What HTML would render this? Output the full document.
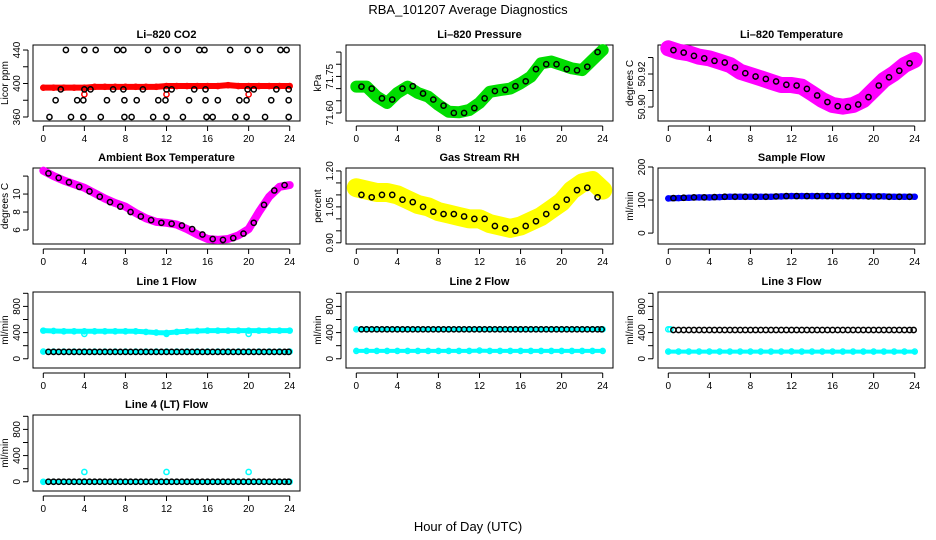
<!DOCTYPE html>
<html><head><meta charset="utf-8"><style>
body{margin:0;background:#fff;}
svg{display:block;font-family:"Liberation Sans",Helvetica,sans-serif;}
</style></head><body>
<svg id="chart" width="936" height="540" viewBox="0 0 936 540">
<text x="468" y="14" text-anchor="middle" font-size="13">RBA_101207  Average Diagnostics</text>
<text x="468" y="531" text-anchor="middle" font-size="13">Hour of Day (UTC)</text>
</svg>
<script>
const HOURS=[0,1,2,3,4,5,6,7,8,9,10,11,12,13,14,15,16,17,18,19,20,21,22,23,24];
const BHOURS=[0.5,1.5,2.5,3.5,4.5,5.5,6.5,7.5,8.5,9.5,10.5,11.5,12.5,13.5,14.5,15.5,16.5,17.5,18.5,19.5,20.5,21.5,22.5,23.5];
const FHOURS=[0.5,1,1.5,2,2.5,3,3.5,4,4.5,5,5.5,6,6.5,7,7.5,8,8.5,9,9.5,10,10.5,11,11.5,12,12.5,13,13.5,14,14.5,15,15.5,16,16.5,17,17.5,18,18.5,19,19.5,20,20.5,21,21.5,22,22.5,23,23.5,23.9];
const XTICKS=[0,4,8,12,16,20,24];

const co2Band=[395,395,395,395,395,396,396,396,396,396,396,396,397,397,397,397,397,397,398,397,397,397,397,397,397];
const co2BlackHours=[2.2,4.0,5.1,7.2,7.8,10.2,12.0,13.1,15.2,15.7,18.2,19.9,21.1,23.1,23.7,1.7,4.0,4.6,6.8,7.8,9.7,12.0,12.5,14.7,15.8,19.9,20.5,22.7,23.9,1.2,3.3,3.9,6.2,7.9,9.1,11.2,11.9,14.2,15.8,17.0,19.1,19.8,22.2,23.9,0.6,2.7,3.9,5.6,7.9,8.6,10.7,12.0,13.6,15.9,16.5,18.7,19.8,21.6,23.9];
const co2BlackValues=[440,440,440,440,440,440,440,440,440,440,440,440,440,440,440,393,393,393,393,393,393,393,393,393,393,393,393,393,393,380,380,380,380,380,380,380,380,380,380,380,380,380,380,380,360,360,360,360,360,360,360,360,360,360,360,360,360,360,360];
const co2OutHours=[4,12,20];
const co2OutValues=[387,387,387];

const presBand=[71.708,71.708,71.667,71.641,71.682,71.708,71.682,71.667,71.633,71.605,71.603,71.612,71.641,71.687,71.694,71.70,71.722,71.749,71.804,71.811,71.797,71.783,71.776,71.817,71.858];
const presBlack=[71.708,71.70,71.66,71.655,71.70,71.71,71.68,71.655,71.63,71.60,71.60,71.62,71.66,71.69,71.695,71.71,71.73,71.78,71.80,71.80,71.78,71.775,71.79,71.85];

const tempBand=[50.9356,50.9335,50.9325,50.9305,50.9295,50.9275,50.9255,50.9214,50.9194,50.9174,50.9153,50.9133,50.9133,50.9123,50.9083,50.9042,50.9012,50.9002,50.9012,50.9042,50.9103,50.9164,50.9204,50.9255,50.9285];
const tempBlack=[50.9345,50.933,50.931,50.9295,50.928,50.927,50.924,50.9205,50.9185,50.917,50.9155,50.9135,50.913,50.911,50.907,50.903,50.9005,50.900,50.9015,50.906,50.913,50.918,50.922,50.9265];

const ambBand=[12.6,12.0,11.5,11.1,10.7,10.1,9.5,9.0,8.6,7.9,7.3,6.9,6.8,6.6,6.1,5.5,5.0,4.9,5.0,5.4,6.1,8.0,9.7,10.8,11.0];
const ambBlack=[12.3,11.8,11.3,10.8,10.3,9.7,9.1,8.6,8.0,7.5,7.1,6.8,6.7,6.5,6.1,5.5,5.0,4.9,5.1,5.6,6.8,8.8,10.4,11.0];

const rhBand=[1.13,1.12,1.11,1.11,1.10,1.08,1.06,1.05,1.03,1.02,1.01,1.00,1.00,0.98,0.97,0.96,0.97,0.99,1.01,1.04,1.07,1.12,1.15,1.16,1.12];
const rhBlack=[1.10,1.09,1.10,1.10,1.08,1.07,1.05,1.03,1.02,1.02,1.01,1.00,1.00,0.97,0.96,0.95,0.97,0.99,1.02,1.05,1.08,1.12,1.13,1.09];

const sampBand=[105,106,107,108,108,109,110,110,110,110,110,111,112,112,112,112,112,112,112,112,111,111,110,110,110];
const sampBlack=[106,107,108,108,109,110,110,110,110,110,111,112,112,112,112,112,112,112,112,111,111,110,110,110];

const l1Upper=[430,425,420,420,420,420,420,420,420,420,410,400,395,410,420,425,430,430,430,430,430,430,430,430,430];
const l1Lower=[110,110,110,110,110,110,110,110,110,110,110,110,110,110,110,110,110,110,110,110,110,110,110,110,110];
const l1Black=[105,105,105,105,105,105,105,105,105,105,105,105,105,105,105,105,105,105,105,105,105,105,105,105,105,105,105,105,105,105,105,105,105,105,105,105,105,105,105,105,105,105,105,105,105,105,105,105];
const l2Upper=[450,450,450,450,450,450,450,450,450,450,450,450,450,450,450,450,450,450,450,450,450,450,450,450,450];
const l2Lower=[120,120,120,120,120,120,120,120,120,120,120,120,125,120,120,120,120,120,120,120,120,120,120,120,120];
const l2Black=[450,450,450,450,450,450,450,450,450,450,450,450,450,450,450,450,450,450,450,450,450,450,450,450,450,450,450,450,450,450,450,450,450,450,450,450,450,450,450,450,450,450,450,450,450,450,450,450];
const l3Lower=[110,110,110,110,110,110,110,110,110,110,110,110,112,110,110,110,110,110,110,110,110,110,110,110,110];
const l3Black=[440,440,440,440,440,440,440,440,440,440,440,440,440,440,440,440,440,440,440,440,440,440,440,440,440,440,440,440,440,440,440,440,440,440,440,440,440,440,440,440,440,440,440,440,440,440,440,440];
const l4Band=[0,0,0,0,0,0,0,0,0,0,0,0,0,0,0,0,0,0,0,0,0,0,0,0,0];
const l4Black=[0,0,0,0,0,0,0,0,0,0,0,0,0,0,0,0,0,0,0,0,0,0,0,0,0,0,0,0,0,0,0,0,0,0,0,0,0,0,0,0,0,0,0,0,0,0,0,0];
const l4OutHours=[4,12,20];
const l4OutValues=[150,150,150];

const NS="http://www.w3.org/2000/svg";
const svg=document.getElementById('chart');
function mk(tag,attrs,parent){const e=document.createElementNS(NS,tag);for(const k in attrs)e.setAttribute(k,attrs[k]);(parent||svg).appendChild(e);return e;}

const COLS=[33,346,658],ROWS=[45,168,292,415],W=267,H=76;

function panel(col,row,title,ylab,ymin,ymax,ticks,labels,slug){
  const L=COLS[col],T=ROWS[row];
  const g=mk('g',{});
  
  
  const xs=h=>L+10.3+h/24*(W-20.6);
  const ys=v=>T+H-(v-ymin)/(ymax-ymin)*H;
  const t=mk('text',{x:L+W/2,y:T-7,'text-anchor':'middle','font-size':11,'font-weight':'bold'},g);
  t.textContent=title;
  
  
  const box=mk('rect',{x:L,y:T,width:W,height:H,fill:'none',stroke:'#000','stroke-width':1},g);
  
  
  const ax=mk('g',{},g);
  
  
  mk('line',{x1:xs(0),x2:xs(24),y1:T+H+5,y2:T+H+5,stroke:'#000'},ax);
  XTICKS.forEach(v=>{
    mk('line',{x1:xs(v),x2:xs(v),y1:T+H+5,y2:T+H+10,stroke:'#000'},ax);
    const tx=mk('text',{x:xs(v),y:T+H+21,'text-anchor':'middle','font-size':10},ax);
    tx.textContent=v;
  });
  const ay=mk('g',{},g);
  
  
  mk('line',{x1:L-5,x2:L-5,y1:ys(ticks[0]),y2:ys(ticks[ticks.length-1]),stroke:'#000'},ay);
  ticks.forEach(v=>{
    mk('line',{x1:L-10,x2:L-5,y1:ys(v),y2:ys(v),stroke:'#000'},ay);
  });
  labels.forEach(s=>{
    const y=ys(parseFloat(s));
    const tx=mk('text',{x:L-13,y:y,'text-anchor':'middle','font-size':10,transform:`rotate(-90 ${L-13} ${y})`},ay);
    tx.textContent=s;
  });
  const yl=mk('text',{x:L-25,y:T+H/2,'text-anchor':'middle','font-size':10,transform:`rotate(-90 ${L-25} ${T+H/2})`},g);
  yl.textContent=ylab;
  
  
  return {g,xs,ys,L,T};
}
function band(p,hours,vals,color,width,name){
  const pts=hours.map((h,i)=>p.xs(h)+','+p.ys(vals[i])).join(' ');
  const pl=mk('polyline',{points:pts,fill:'none',stroke:color,'stroke-width':width,'stroke-linejoin':'round','stroke-linecap':'round'},p.g);
  
  
  hours.forEach((h,i)=>{
    const c=mk('circle',{cx:p.xs(h),cy:p.ys(vals[i]),r:2.6,fill:'none',stroke:color,'stroke-width':1.4},p.g);
    
    
  });
}
function pts(p,hours,vals,color,name){
  hours.forEach((h,i)=>{
    const c=mk('circle',{cx:p.xs(h),cy:p.ys(vals[i]),r:2.6,fill:'none',stroke:color,'stroke-width':1.5},p.g);
    
    
  });
}
const FT=[0,200,400,600,800,1000],FL=['0','400','800'];

let p=panel(0,0,'Li\u2013820 CO2','Licor ppm',355.2,446,[360,380,400,420,440],['360','400','440'],'co2');
band(p,HOURS,co2Band,'#ff0000',6,'co2-minute-band');
pts(p,co2OutHours,co2OutValues,'#ff0000','co2-outlier');
pts(p,co2BlackHours,co2BlackValues,'#000','co2-average-point');

p=panel(1,0,'Li\u2013820 Pressure','kPa',71.567,71.879,[71.60,71.65,71.70,71.75,71.80,71.85],['71.60','71.75'],'pressure');
band(p,HOURS,presBand,'#00dd00',12,'pressure-minute-band');
pts(p,BHOURS,presBlack,'#000','pressure-average-point');

p=panel(2,0,'Li\u2013820 Temperature','degrees C',50.8915,50.9376,[50.90,50.91,50.92,50.93],['50.90','50.92'],'temperature');
band(p,HOURS,tempBand,'#ff00ff',16,'temperature-minute-band');
pts(p,BHOURS,tempBlack,'#000','temperature-average-point');

p=panel(0,1,'Ambient Box Temperature','degrees C',4.44,12.9,[6,8,10,12],['6','8','10'],'ambient');
band(p,HOURS,ambBand,'#ff00ff',8,'ambient-minute-band');
pts(p,BHOURS,ambBlack,'#000','ambient-average-point');

p=panel(1,1,'Gas Stream RH','percent',0.895,1.2123,[0.90,0.95,1.00,1.05,1.10,1.15,1.20],['0.90','1.05','1.20'],'rh');
band(p,HOURS,rhBand,'#ffff00',19,'rh-minute-band');
pts(p,BHOURS,rhBlack,'#000','rh-average-point');

p=panel(2,1,'Sample Flow','ml/min',-33,197,[0,100,200],['0','100','200'],'sample-flow');
band(p,HOURS,sampBand,'#0000ff',6,'sample-flow-minute-band');
pts(p,BHOURS,sampBlack,'#000','sample-flow-average-point');

p=panel(0,2,'Line 1 Flow','ml/min',-141,1020,FT,FL,'line1');
band(p,HOURS,l1Upper,'#00ffff',5,'line1-upper-band');
band(p,HOURS,l1Lower,'#00ffff',4,'line1-lower-band');
pts(p,[4,12,20],[380,380,380],'#00ffff','line1-outlier');
pts(p,FHOURS,l1Black,'#000','line1-average-point');

p=panel(1,2,'Line 2 Flow','ml/min',-141,1020,FT,FL,'line2');
band(p,HOURS,l2Upper,'#00ffff',4,'line2-upper-band');
band(p,HOURS,l2Lower,'#00ffff',4,'line2-lower-band');
pts(p,FHOURS,l2Black,'#000','line2-average-point');

p=panel(2,2,'Line 3 Flow','ml/min',-141,1020,FT,FL,'line3');
pts(p,[0,0.2],[450,450],'#00ffff','line3-upper-point');
band(p,HOURS,l3Lower,'#00ffff',4,'line3-lower-band');
pts(p,FHOURS,l3Black,'#000','line3-average-point');

p=panel(0,3,'Line 4 (LT) Flow','ml/min',-141,1020,FT,FL,'line4');
band(p,HOURS,l4Band,'#00ffff',4,'line4-band');
pts(p,l4OutHours,l4OutValues,'#00ffff','line4-outlier');
pts(p,FHOURS,l4Black,'#000','line4-average-point');
</script>
</body></html>
